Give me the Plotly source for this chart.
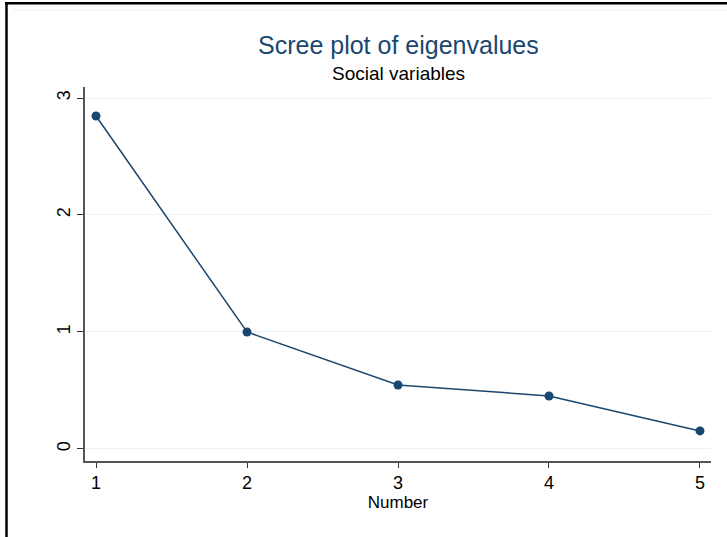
import plotly.graph_objects as go

numbers = [1, 2, 3, 4, 5]
eigenvalues = [2.846, 1.0, 0.547, 0.453, 0.154]
x_ticks = [1, 2, 3, 4, 5]
y_ticks = [0, 1, 2, 3]

W, H = 727, 537
L, R, T, B = 85, 16, 87, 76
pw, ph = W - L - R, H - T - B

def px_x(p):
    return (p - L) / pw

def px_y(p):
    return (H - B - p) / ph

navy = "#1a476f"
fig = go.Figure()
fig.add_trace(go.Scatter(
    x=numbers, y=eigenvalues, mode="lines+markers",
    line=dict(color=navy, width=1.5),
    marker=dict(color=navy, size=9),
    showlegend=False, cliponaxis=False,
))

fig.update_layout(
    width=W, height=H,
    margin=dict(l=L, r=R, t=T, b=B),
    paper_bgcolor="white", plot_bgcolor="white",
    font=dict(family="Liberation Sans, Arial, sans-serif", color="black", size=17),
    xaxis=dict(
        range=[0.927, 5.073], tickvals=x_ticks, ticktext=[str(v) for v in x_ticks],
        showgrid=False, zeroline=False, showline=True, linecolor="#555555", linewidth=1.5,
        ticks="outside", ticklen=5, tickcolor="#333333", tickwidth=1,
        tickfont=dict(size=18), title=dict(text="Number", font=dict(size=17), standoff=0),
    ),
    yaxis=dict(
        range=[-0.103, 3.094], tickvals=y_ticks, ticktext=[str(v) for v in y_ticks],
        showgrid=True, gridcolor="#eaf2f3", gridwidth=1.2, zeroline=False,
        showline=True, linecolor="#555555", linewidth=1.5,
        ticks="outside", ticklen=6, tickcolor="#333333", tickwidth=1,
        tickangle=-90, tickfont=dict(size=18),
    ),
    annotations=[
        dict(text="Scree plot of eigenvalues", x=0.5, y=px_y(45), xref="paper", yref="paper",
             showarrow=False, xanchor="center", yanchor="middle",
             font=dict(size=25, color=navy)),
        dict(text="Social variables", x=0.5, y=px_y(73), xref="paper", yref="paper",
             showarrow=False, xanchor="center", yanchor="middle",
             font=dict(size=19, color="black")),
    ],
    shapes=[
        dict(type="line", xref="paper", yref="paper", x0=px_x(13), x1=px_x(727),
             y0=px_y(10), y1=px_y(10), line=dict(color="#eeeeee", width=1)),
        dict(type="line", xref="paper", yref="paper", x0=px_x(6.5), x1=px_x(6.5),
             y0=px_y(2), y1=px_y(537), line=dict(color="black", width=2.5)),
        dict(type="line", xref="paper", yref="paper", x0=px_x(5), x1=px_x(727),
             y0=px_y(3.2), y1=px_y(3.2), line=dict(color="black", width=2.5)),
    ],
)

fig.write_html("out.html")
